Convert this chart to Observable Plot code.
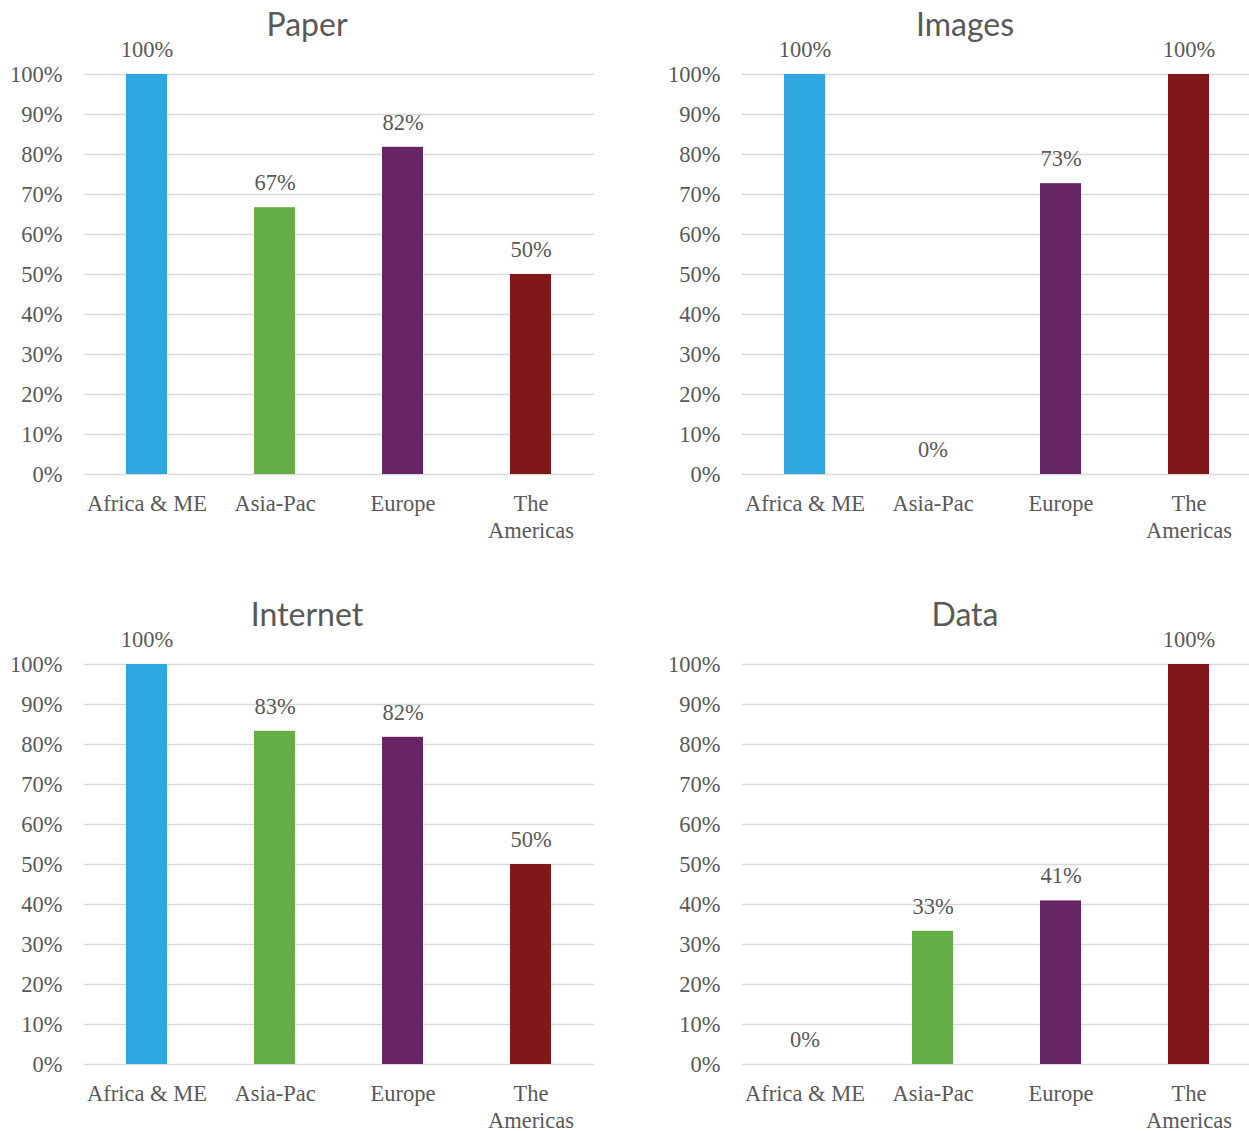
<!DOCTYPE html>
<html>
<head>
<meta charset="utf-8">
<script src="https://cdn.jsdelivr.net/npm/d3@7"></script>
<script src="https://cdn.jsdelivr.net/npm/@observablehq/plot@0.6"></script>
<style>
  body { margin: 0; background: #fff; }
  #wrap { position: relative; width: 1249px; height: 1131px; overflow: hidden; background: #fff; }
  .panel { position: absolute; width: 614px; }
  .title { height: 47px; line-height: 47px; text-align: center; font-family: Lato, "Open Sans", sans-serif; font-size: 32px; color: #595959; margin-bottom: 1px; }
  .panel svg { display: block; }
</style>
</head>
<body>
<div id="wrap"></div>
<script>
const regions = ["Africa & ME", "Asia-Pac", "Europe", "The Americas"];
const regionColors = ["#2ea6df", "#64ae45", "#672466", "#821719"];
const panelTitles = ["Paper", "Images", "Internet", "Data"];
const paperValues = [100, 66.7, 81.8, 50];
const imagesValues = [100, 0, 72.7, 100];
const internetValues = [100, 83.3, 81.8, 50];
const dataValues = [0, 33.3, 40.9, 100];
const yTicks = [0, 10, 20, 30, 40, 50, 60, 70, 80, 90, 100];

const series = [paperValues, imagesValues, internetValues, dataValues];
const positions = [[0, 0], [658, 0], [0, 590], [658, 590]];

const wrap = document.getElementById("wrap");

series.forEach((vals, i) => {
  const rows = regions.map((r, j) => ({ region: r, value: vals[j] }));
  const panel = document.createElement("div");
  panel.className = "panel";
  panel.style.left = positions[i][0] + "px";
  panel.style.top = positions[i][1] + "px";
  const title = document.createElement("div");
  title.className = "title";
  title.textContent = panelTitles[i];
  panel.appendChild(title);

  const chart = Plot.plot({
    width: 614,
    height: 490,
    marginLeft: 84,
    marginRight: 20,
    marginTop: 26,
    marginBottom: 64,
    style: { fontFamily: "'Liberation Serif', serif", fontSize: "22.5px", color: "#595959", background: "transparent", overflow: "visible" },
    x: { domain: regions, range: [82.5, 594.5], paddingInner: 0.68, paddingOuter: 0.34, label: null },
    y: { domain: [0, 100], label: null },
    color: { domain: regions, range: regionColors },
    marks: [
      Plot.gridY(yTicks, { stroke: "#d9d9d9", strokeOpacity: 1, strokeWidth: 1.5 }),
      Plot.axisY(yTicks, { tickSize: 0, tickPadding: 22, tickFormat: d => d + "%", label: null, fill: "#595959" }),
      Plot.axisX({ tickSize: 0, tickPadding: 17, lineHeight: 1.2, tickFormat: d => d.replace("The Americas", "The\nAmericas"), label: null, fill: "#595959" }),
      Plot.barY(rows, { x: "region", y: "value", fill: "region" }),
      Plot.text(rows, { x: "region", y: "value", text: d => Math.round(d.value) + "%", dy: -25, fill: "#595959" })
    ]
  });
  panel.appendChild(chart);
  wrap.appendChild(panel);
});
</script>
</body>
</html>
